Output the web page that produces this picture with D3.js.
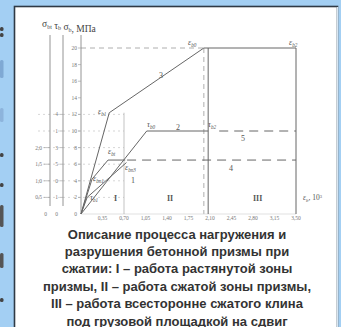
<!DOCTYPE html>
<html><head><meta charset="utf-8">
<script src="https://cdn.jsdelivr.net/npm/d3@7"></script>
<style>body{margin:0;background:#a3cff3;overflow:hidden} svg{display:block}</style>
</head><body><svg id="c" width="341" height="327"></svg>
<script>
// ---- data ----
const sigmaTicks = [0,2,4,6,8,10,12,14,16,18,20];
const sigmaBtTicks = [0,2,4,6,8];
const sigmaBtLabels = ["0","0,5","1,0","1,5","2,0"];
const tauTicks = [0,2,4,6,8,10,12];
const tauLabels = ["0","1","0","5","3","1","4"];
const epsTicks = [0.35,0.70,1.05,1.40,1.75,2.10,2.45,2.80,3.15,3.50];
const curve1 = [[0,0],[0.46,12.2]];
const curve3 = [[0.46,12.2],[2.0,20],[3.5,20]];
const curve2 = [[0,0],[1.07,10],[2.07,10]];
const curve5 = [[2.25,10],[3.5,10]];
const curve4 = [[0.75,6.5],[3.5,6.5]];
const curveBt = [[0,0],[0.18,4.2],[0.44,6.5],[0.72,6.5]];
const curveBn = [[0,0],[0.10,2.0],[0.74,6.2]];
const vSolid = [0.70, 2.07, 3.5];
const eps0 = 2.0, sigMax = 20;
const caption = ["Описание процесса нагружения и","разрушения бетонной призмы при","сжатии: I – работа растянутой зоны","призмы, II – работа сжатой зоны призмы,","III – работа всесторонне сжатого клина","под грузовой площадкой на сдвиг"];

const svg = d3.select("#c");
// left strip fragments
const frags = [[27,4,"#444"],[33,4,"#444"],[60,18,"#7fa9d4"],[108,14,"#8db4dc"],[153,4,"#444"],[183,4,"#444"],[205,22,"#555"],[253,15,"#555"],[298,4,"#444"]];
svg.selectAll("rect.f").data(frags).join("rect").attr("x",0).attr("y",d=>d[0]).attr("width",3.5).attr("height",d=>d[1]).attr("rx",1.5).attr("fill",d=>d[2]);
// panel
svg.append("rect").attr("x",14.5).attr("y",6.5).attr("width",323).attr("height",330).attr("fill","#fff").attr("stroke","#2f3a45").attr("stroke-width",1.6);
svg.append("line").attr("x1",337.5).attr("x2",337.5).attr("y1",7).attr("y2",327).attr("stroke","#d8e6f2").attr("stroke-width",1.5);

const x = d3.scaleLinear([0,3.5],[81,296]);
const y = d3.scaleLinear([0,20],[214,48]);
const line = d3.line().x(d=>x(d[0])).y(d=>y(d[1]));
const g = svg.append("g");
const grey="#666";

// gridlines (faint dashed)
g.selectAll("line.gr").data(sigmaTicks.filter(v=>v>0&&v<=12)).join("line")
 .attr("x1",38).attr("x2",x(0.70)).attr("y1",d=>y(d)).attr("y2",d=>y(d))
 .attr("stroke","#bbb").attr("stroke-width",0.6).attr("stroke-dasharray","2,3");
g.append("line").attr("x1",x(0)).attr("x2",x(eps0)).attr("y1",y(sigMax)).attr("y2",y(sigMax)).attr("stroke","#999").attr("stroke-width",0.8).attr("stroke-dasharray","5,4");
g.append("line").attr("x1",x(eps0)).attr("x2",x(eps0)).attr("y1",y(sigMax)).attr("y2",y(0)).attr("stroke","#999").attr("stroke-width",0.8).attr("stroke-dasharray","5,4");

// axes lines
[[50,206],[63,206],[81,214]].forEach(a=>g.append("line").attr("x1",a[0]).attr("x2",a[0]).attr("y1",35).attr("y2",a[1]).attr("stroke","#888").attr("stroke-width",0.9));
g.append("line").attr("x1",x(0)).attr("x2",x(3.5)).attr("y1",y(0)).attr("y2",y(0)).attr("stroke","#ccc").attr("stroke-width",0.6);

const tickFont = {"font-family":"Liberation Serif","font-size":"5.5px","fill":"#777"};
function applyFont(sel,f){Object.entries(f).forEach(([k,v])=>sel.attr(k,v));return sel;}
// main axis
applyFont(g.selectAll("text.ms").data(sigmaTicks).join("text").attr("x",77).attr("y",d=>y(d)+2).attr("text-anchor","end").text(d=>d),tickFont);
g.selectAll("line.mt").data(sigmaTicks.filter(v=>v>0)).join("line").attr("x1",78).attr("x2",81).attr("y1",d=>y(d)).attr("y2",d=>y(d)).attr("stroke","#999").attr("stroke-width",0.6);
applyFont(g.selectAll("text.ts").data(tauTicks).join("text").attr("x",58).attr("y",d=>y(d)+2).attr("text-anchor","end").text((d,i)=>tauLabels[i]),tickFont);
g.selectAll("line.tt").data(tauTicks.filter(v=>v>0)).join("line").attr("x1",60).attr("x2",63).attr("y1",d=>y(d)).attr("y2",d=>y(d)).attr("stroke","#999").attr("stroke-width",0.6);
applyFont(g.selectAll("text.bs").data(sigmaBtTicks).join("text").attr("x",d=>d===0?47:42).attr("y",d=>y(d)+2).attr("text-anchor","end").text((d,i)=>sigmaBtLabels[i]),tickFont);
g.selectAll("line.bt").data(sigmaBtTicks.filter(v=>v>0)).join("line").attr("x1",44).attr("x2",50).attr("y1",d=>y(d)).attr("y2",d=>y(d)).attr("stroke","#999").attr("stroke-width",0.6);
applyFont(g.selectAll("text.xt").data(epsTicks).join("text").attr("x",d=>x(d)).attr("y",y(0)+6).attr("text-anchor","middle").text(d=>d3.format(".2f")(d).replace(".",",")),tickFont);

// verticals
g.selectAll("line.vs").data(vSolid).join("line").attr("x1",d=>x(d)).attr("x2",d=>x(d)).attr("y1",(d,i)=>i===0?y(12.2):y(sigMax)).attr("y2",y(0)).attr("stroke",(d,i)=>i===0?"#aaa":grey).attr("stroke-width",(d,i)=>i===0?0.7:1);

// curves
const solid=[curve1,curve3,curve2,curveBt,curveBn];
g.selectAll("path.c").data(solid).join("path").attr("d",line).attr("fill","none").attr("stroke",grey).attr("stroke-width",1);
g.selectAll("path.d").data([curve5,curve4]).join("path").attr("d",line).attr("fill","none").attr("stroke",grey).attr("stroke-width",1).attr("stroke-dasharray","9,6");

// labels
const serif = "Liberation Serif";
function lab(px,py,main,sub,opts={}){
  const s=opts.size||8;
  const t=g.append("text").attr("x",px).attr("y",py).attr("font-family",serif).attr("font-size",s).attr("fill","#555").attr("font-style",opts.italic===false?"normal":"italic").attr("font-weight",opts.bold?"bold":"normal");
  t.append("tspan").text(main);
  if(sub){t.append("tspan").attr("font-size",s*0.65).attr("dy",1.5).text(sub);}
  return t;
}
lab(188,45,"ε","b0");
lab(289,45,"ε","b2");
lab(98,114,"ε","b1");
lab(159,78,"3","",{italic:false});
lab(147,127,"τ","b0");
lab(176,130,"2","",{italic:false});
lab(208,127,"τ","b2");
lab(241,141,"5","",{italic:false});
lab(108,154,"ε","bt");
lab(125,170,"ε","bn3");
lab(131,183,"1","",{italic:false});
lab(229,171,"4","",{italic:false});
lab(93,181,"ε","bn1");
lab(90,200,"τ","b1");
lab(114,201,"I","",{italic:false,bold:true});
lab(167,201,"II","",{italic:false,bold:true});
lab(253,201,"III","",{italic:false,bold:true});
const xl=lab(303,200,"ε","b",{size:7.5});
xl.append("tspan").attr("dy",-1.5).attr("font-style","normal").text(", 10");
xl.append("tspan").attr("dy",-2.5).attr("font-size",4.5).attr("font-style","normal").text("3");

// axis title
const at=g.append("text").attr("x",42).attr("y",27).attr("font-family",serif).attr("font-size",9.5).attr("fill","#444");
[["σ","bt"],[" τ","b"],[" σ","b"]].forEach(p=>{at.append("tspan").text(p[0]);at.append("tspan").attr("font-size",6).attr("dy",1.5).text(p[1]);at.append("tspan").attr("dy",-1.5).text("");});
at.append("tspan").text(", МПа");

// caption
svg.selectAll("text.cap").data(caption).join("text").attr("x",177).attr("y",(d,i)=>238.5+i*17.4).attr("text-anchor","middle")
 .attr("font-family","Liberation Sans").attr("font-weight","bold").attr("font-size",13).attr("fill","#333").text(d=>d);
</script></body></html>
